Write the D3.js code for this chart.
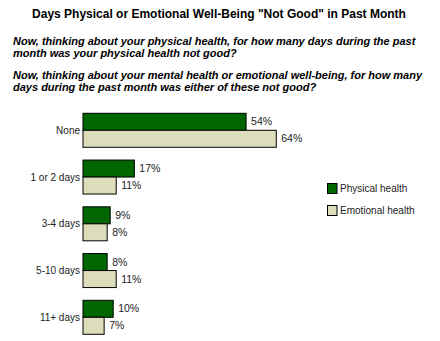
<!DOCTYPE html>
<html><head><meta charset="utf-8">
<script src="https://cdn.jsdelivr.net/npm/d3@7"></script>
<style>body{margin:0;background:#fff}svg{display:block}</style>
</head><body>
<script>
const categories = ["None", "1 or 2 days", "3-4 days", "5-10 days", "11+ days"];
const physical = [54, 17, 9, 8, 10];
const emotional = [64, 11, 8, 11, 7];
const seriesNames = ["Physical health", "Emotional health"];
const colors = ["#006600", "#DDDDBB"];
const title = 'Days Physical or Emotional Well-Being "Not Good" in Past Month';
const questions = [
  ["Now, thinking about your physical health, for how many days during the past", "month was your physical health not good?"],
  ["Now, thinking about your mental health or emotional well-being, for how many", "days during the past month was either of these not good?"]
];

const W = 440, H = 341;
const svg = d3.select("body").append("svg").attr("width", W).attr("height", H);
const font = "Arial, 'Liberation Sans', sans-serif";

svg.append("text").attr("x", 219).attr("y", 18).attr("text-anchor", "middle")
  .attr("font-family", font).attr("font-weight", "bold").attr("font-size", 12).text(title);

const qy = [[45, 57], [79, 91]];
questions.forEach((q, i) => q.forEach((line, j) => {
  svg.append("text").attr("x", 13).attr("y", qy[i][j])
    .attr("font-family", font).attr("font-weight", "bold").attr("font-style", "italic")
    .attr("font-size", 11).text(line);
}));

const x = d3.scaleLinear().domain([0, 100]).range([83, 385]);
const y = d3.scaleBand().domain(categories).range([113.3, 334.3]).paddingInner(0.273).paddingOuter(0);
const sub = d3.scaleBand().domain([0, 1]).range([0, y.bandwidth()]);

const data = categories.map((c, i) => ({c, vals: [physical[i], emotional[i]]}));
const g = svg.append("g");
const grp = g.selectAll("g.grp").data(data).join("g").attr("class", "grp")
  .attr("transform", d => `translate(0,${y(d.c)})`);

grp.append("text").attr("x", 80).attr("y", y.bandwidth() / 2).attr("dy", "0.35em")
  .attr("text-anchor", "end").attr("font-family", font).attr("font-size", 10).attr("fill", "#222")
  .text(d => d.c);

grp.selectAll("rect").data(d => d.vals).join("rect")
  .attr("x", x(0)).attr("y", (v, i) => sub(i))
  .attr("width", v => x(v) - x(0)).attr("height", sub.bandwidth())
  .attr("fill", (v, i) => colors[i]).attr("stroke", "#000").attr("stroke-width", 1);

grp.selectAll("text.val").data(d => d.vals).join("text").attr("class", "val")
  .attr("x", v => x(v) + 5).attr("y", (v, i) => sub(i) + sub.bandwidth() / 2).attr("dy", "0.35em")
  .attr("font-family", font).attr("font-size", 10.5).attr("fill", "#222")
  .text(v => v + "%");

const leg = svg.append("g");
seriesNames.forEach((s, i) => {
  const ly = 183.5 + i * 22;
  leg.append("rect").attr("x", 327.5).attr("y", ly).attr("width", 9.5).attr("height", 10)
    .attr("fill", colors[i]).attr("stroke", "#000").attr("stroke-width", 1);
  leg.append("text").attr("x", 340).attr("y", ly + 5).attr("dy", "0.35em")
    .attr("font-family", font).attr("font-size", 10).attr("fill", "#222").text(s);
});
</script>
</body></html>
